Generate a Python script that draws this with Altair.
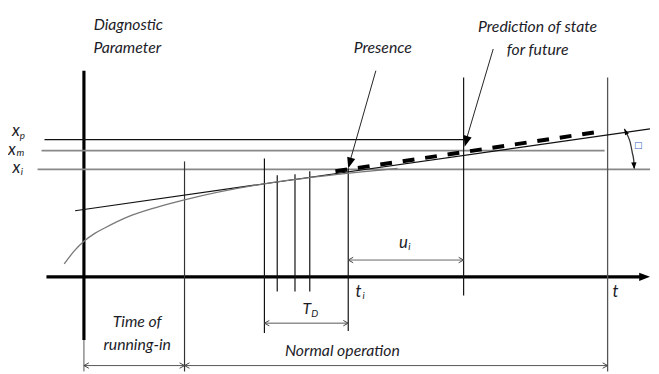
import math
import altair as alt
import pandas as pd

# Diagram units: x to the right, y downward (same scale as the figure)
W, H = 651, 366
OFF = 8

# ---- straight segments ----
seg_x1 = [85, 47, 45, 42, 38, 85, 187, 268, 281, 299, 314, 353, 470, 616, 76, 381, 500, 353, 268, 85, 187]
seg_y1 = [69, 278, 139, 150, 169, 342, 161, 158, 175, 174, 171, 168, 76, 76, 211, 69, 47, 261, 325, 368, 368]
seg_x2 = [85, 651, 470, 613, 659, 85, 187, 268, 281, 299, 314, 353, 470, 616, 659, 355, 473, 470, 353, 187, 616]
seg_y2 = [342, 278, 139, 150, 169, 374, 374, 335, 293, 293, 293, 333, 297, 374, 128, 160, 138, 261, 325, 368, 368]
seg_col = ["#000", "#000", "#111", "#888", "#888", "#555", "#333", "#111", "#111", "#111", "#111", "#111", "#111",
           "#555", "#111", "#222", "#222", "#666", "#555", "#555", "#555"]
seg_w = [3.2, 3.2, 1.3, 1.8, 1.8, 1, 1.2, 1.2, 1.2, 1.2, 1.2, 1.2, 1.2, 1.3, 1.2, 1, 1, 1, 1, 1, 1]

# ---- polylines: running-in curve and angle arc ----
curve_x = [65, 75, 85, 96, 107, 130, 157, 187, 403]
curve_y = [265, 252, 242, 234, 228, 217, 208, 200, 168]
arc_x = [633, 636, 639, 641, 642.5, 643]
arc_y = [128, 134, 142, 152, 160, 168]

# ---- dashed prediction line ----
dash_x = [340, 607]
dash_y = [171, 131]

# ---- filled arrowheads: tip and a point behind ----
fa_tip_x = [353, 471, 659, 643, 633]
fa_tip_y = [168, 146, 278, 169, 128]
fa_from_x = [381, 500, 600, 642.5, 636]
fa_from_y = [69, 47, 278, 160, 134]
fa_len = [11, 11, 11, 7, 6]

# ---- open arrowheads on dimension lines ----
oa_tip_x = [353, 470, 268, 353, 85, 187, 187, 616]
oa_tip_y = [261, 261, 325, 325, 368, 368, 368, 368]
oa_dir = [180, 0, 180, 0, 180, 0, 180, 0]

# ---- labels ----
lab_text = ["Diagnostic", "Parameter", "Presence", "Prediction of state", "for future",
            "Time of", "running-in", "Normal operation",
            "x", "x", "x", "t", "t", "u", "T"]
lab_x = [130, 129, 388, 545, 545, 139, 139, 347, 16, 12, 16.5, 363.5, 624, 409, 311]
lab_y = [23, 46, 46, 25, 48, 324, 347, 353, 130, 149, 168, 293, 293, 244, 311]
lab_size = [16, 16, 16, 16, 16, 16, 16, 16, 17, 17, 17, 17, 17, 17, 16]

sub_text = ["p", "m", "i", "i", "i", "D"]
sub_x = [22.5, 20.5, 22, 368.5, 415, 319]
sub_y = [135, 153, 172, 298, 248, 316]

sq_x = [647]
sq_y = [144]

FONT = "Lato"

# ---------------- build tables ----------------
xs = alt.Scale(domain=[OFF, OFF + W])
ys = alt.Scale(domain=[OFF, OFF + H], reverse=True)

seg = pd.DataFrame({"x": seg_x1, "y": seg_y1, "x2": seg_x2, "y2": seg_y2, "c": seg_col, "w": seg_w})
rules = alt.Chart(seg).mark_rule(strokeCap="butt").encode(
    x=alt.X("x:Q", scale=xs, axis=None),
    y=alt.Y("y:Q", scale=ys, axis=None),
    x2="x2:Q",
    y2="y2:Q",
    color=alt.Color("c:N", scale=None),
    strokeWidth=alt.StrokeWidth("w:Q", scale=None),
)

rows = []
for i, (a, b) in enumerate(zip(curve_x, curve_y)):
    rows.append({"id": "curve", "o": i, "x": a, "y": b, "c": "#777"})
for i, (a, b) in enumerate(zip(arc_x, arc_y)):
    rows.append({"id": "arc", "o": i, "x": a, "y": b, "c": "#333"})
poly = pd.DataFrame(rows)
polylines = alt.Chart(poly).mark_line(interpolate="monotone", strokeWidth=1.3).encode(
    x=alt.X("x:Q", scale=xs, axis=None),
    y=alt.Y("y:Q", scale=ys, axis=None),
    detail="id:N",
    order="o:Q",
    color=alt.Color("c:N", scale=None),
)

dash = pd.DataFrame({"x": [dash_x[0]], "y": [dash_y[0]], "x2": [dash_x[1]], "y2": [dash_y[1]]})
dashed = alt.Chart(dash).mark_rule(color="#000", strokeWidth=4, strokeDash=[12, 11], strokeCap="butt").encode(
    x=alt.X("x:Q", scale=xs, axis=None),
    y=alt.Y("y:Q", scale=ys, axis=None),
    x2="x2:Q",
    y2="y2:Q",
)

fa = []
for tx, ty, fx, fy, ln in zip(fa_tip_x, fa_tip_y, fa_from_x, fa_from_y, fa_len):
    ang = math.degrees(math.atan2(ty - fy, tx - fx)) % 360
    fa.append({"x": tx, "y": ty, "a": ang, "s": ln * ln * 4})
fa = pd.DataFrame(fa)
filled_heads = alt.Chart(fa).mark_point(
    shape="M0,0L-1,-0.38L-1,0.38Z", filled=True, color="#000", opacity=1, strokeWidth=0
).encode(
    x=alt.X("x:Q", scale=xs, axis=None),
    y=alt.Y("y:Q", scale=ys, axis=None),
    angle=alt.Angle("a:Q", scale=None),
    size=alt.Size("s:Q", scale=None),
)

oa = pd.DataFrame({"x": oa_tip_x, "y": oa_tip_y, "a": oa_dir})
open_heads = alt.Chart(oa).mark_point(
    shape="M-1,-0.55L0,0L-1,0.55", filled=False, color="#444", opacity=1, strokeWidth=1, size=100
).encode(
    x=alt.X("x:Q", scale=xs, axis=None),
    y=alt.Y("y:Q", scale=ys, axis=None),
    angle=alt.Angle("a:Q", scale=None),
)

labs = pd.DataFrame({"t": lab_text, "x": lab_x, "y": lab_y, "s": lab_size})
labels = alt.Chart(labs).mark_text(
    font=FONT, fontStyle="italic", color="#1c1c28", align="center", baseline="middle"
).encode(
    x=alt.X("x:Q", scale=xs, axis=None),
    y=alt.Y("y:Q", scale=ys, axis=None),
    text="t:N",
    size=alt.Size("s:Q", scale=None),
)

subs = pd.DataFrame({"t": sub_text, "x": sub_x, "y": sub_y})
sublabels = alt.Chart(subs).mark_text(
    font=FONT, fontStyle="italic", color="#1c1c28", align="center", baseline="middle", fontSize=10
).encode(
    x=alt.X("x:Q", scale=xs, axis=None),
    y=alt.Y("y:Q", scale=ys, axis=None),
    text="t:N",
)

sq = pd.DataFrame({"x": sq_x, "y": sq_y, "t": ["□"]})
square = alt.Chart(sq).mark_text(font="DejaVu Sans", fontSize=9, color="#2f62b8").encode(
    x=alt.X("x:Q", scale=xs, axis=None),
    y=alt.Y("y:Q", scale=ys, axis=None),
    text="t:N",
)

chart = alt.layer(
    rules, polylines, dashed, filled_heads, open_heads, labels, sublabels, square
).properties(
    width=W, height=H, padding=0, background="white"
).configure_view(stroke=None)

chart.save("out.html", embed_options={"renderer": "svg", "actions": False})
